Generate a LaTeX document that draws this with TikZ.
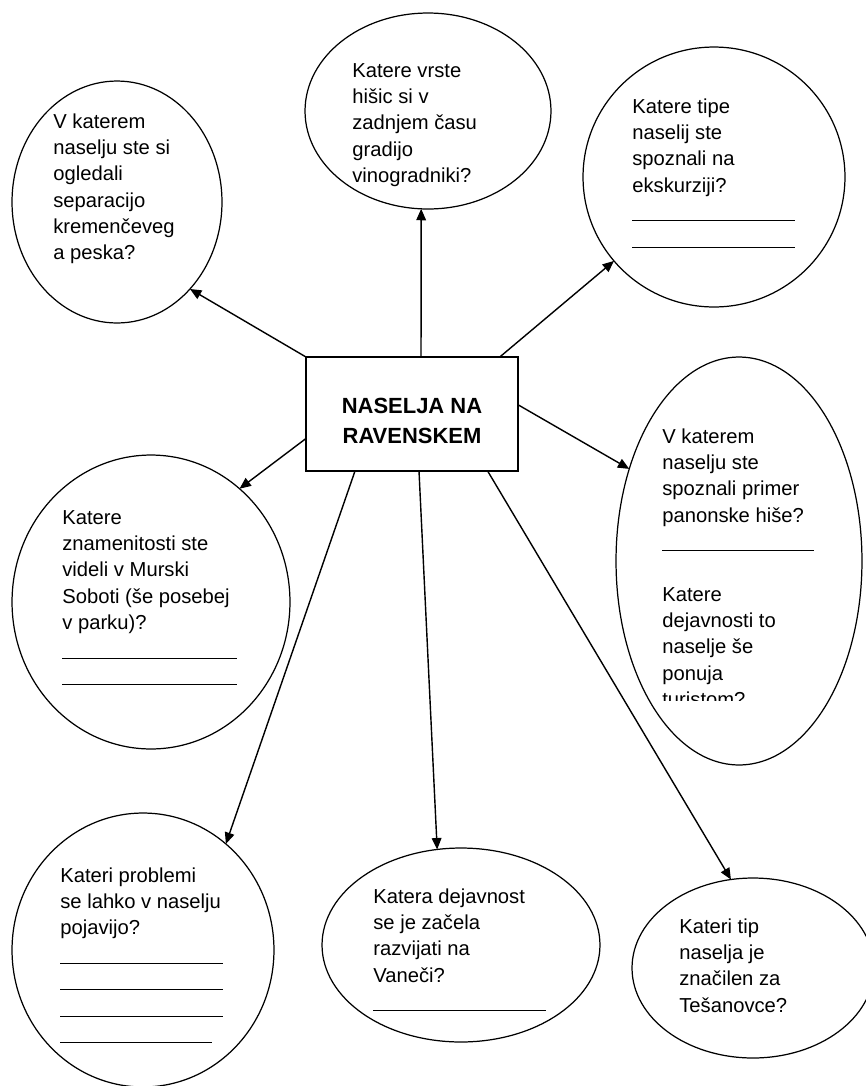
\documentclass[tikz,border=0pt]{standalone}
\usepackage{fontspec}
\setmainfont{Liberation Sans}
\usetikzlibrary{shapes.geometric,arrows.meta}

\tikzset{
	bubble/.style={ellipse, draw, line width=0.7pt, inner sep=0pt, outer sep=0pt},
	ask/.style={anchor=north west, align=left, inner sep=0pt, font=\fontsize{11.5}{15}\selectfont},
	hubbox/.style={rectangle, draw, line width=0.7pt, minimum width=4.24cm, minimum height=2.28cm, inner sep=0pt, outer sep=0pt},
	link/.style={line width=0.8pt, -{Triangle[length=6.5pt,width=5.5pt]}}
}
\newcommand{\blank}[1]{\rule[-1.7pt]{#1}{0.6pt}}

\begin{document}
\begin{tikzpicture}[x=0.02cm,y=-0.02cm]
	\useasboundingbox (0,0) rectangle (866,1086);
	\clip (0,0) rectangle (866,1086);

	% middle box
	\node[hubbox] (hub) at (412,414) {};
	\node[align=center, inner sep=0pt, font=\fontsize{12.5}{17}\selectfont\bfseries] (hubTxt) at (412,421) {NASELJA NA\\RAVENSKEM};

	% bubbles
	\node[bubble, minimum width=4.2cm, minimum height=4.84cm] (sep) at (117,202) {};
	\node[bubble, minimum width=4.92cm, minimum height=3.92cm] (hisice) at (428,111) {};
	\node[bubble, minimum width=5.24cm, minimum height=5.2cm] (tipi) at (714,177) {};
	\node[bubble, minimum width=5.56cm, minimum height=5.88cm] (sobota) at (151,602) {};
	\node[bubble, minimum width=4.92cm, minimum height=8.16cm] (panon) at (739,561) {};
	\node[bubble, minimum width=5.24cm, minimum height=5.48cm] (problemi) at (143,950) {};
	\node[bubble, minimum width=5.56cm, minimum height=3.88cm] (vanec) at (461,945) {};
	\node[bubble, minimum width=4.84cm, minimum height=3.6cm] (tesan) at (753,968) {};

	% questions
	\node[ask] (sepTxt) at (53,113) {V katerem\\naselju ste si\\ogledali\\separacijo\\kremenčeveg\\a peska?};
	\node[ask] (hisiceTxt) at (352,63) {Katere vrste\\hišic si v\\zadnjem času\\gradijo\\vinogradniki?};
	\node[ask] (tipiTxt) at (632,98) {Katere tipe\\naselij ste\\spoznali na\\ekskurziji?\\\blank{3.26cm}\\\blank{3.26cm}};
	\node[ask] (sobotaTxt) at (62,510) {Katere\\znamenitosti ste\\videli v Murski\\Soboti (še posebej\\v parku)?\\\blank{3.5cm}\\\blank{3.5cm}};
	\begin{scope}
		\clip (600,357) rectangle (866,700);
		\node[ask] (panonTxt) at (662,428) {V katerem\\naselju ste\\spoznali primer\\panonske hiše?\\\blank{3.04cm}\\[15pt]Katere\\dejavnosti to\\naselje še\\ponuja\\turistom?};
	\end{scope}
	\node[ask] (problemiTxt) at (60,867) {Kateri problemi\\se lahko v naselju\\pojavijo?\\\blank{3.26cm}\\\blank{3.26cm}\\\blank{3.26cm}\\\blank{3.04cm}};
	\node[ask] (vanecTxt) at (373,888) {Katera dejavnost\\se je začela\\razvijati na\\Vaneči?\\\blank{3.46cm}};
	\node[ask] (tesanTxt) at (679,918) {Kateri tip\\naselja je\\značilen za\\Tešanovce?};

	% arrows
	\draw[link] (hub.north west) -- (sep.-50);
	\draw[link] (hub.81) -- (hisice.-94);
	\draw[link] (hub.33) -- (tipi.-140);
	\draw[link] (hub.-167) -- (sobota.52);
	\draw[link] (hub.5) -- (panon.140);
	\draw[link] (hub.-135.5) -- (problemi.52);
	\draw[link] (hub.-83) -- (vanec.104);
	\draw[link] (hub.-37.6) -- (tesan.104);

\end{tikzpicture}
\end{document}
